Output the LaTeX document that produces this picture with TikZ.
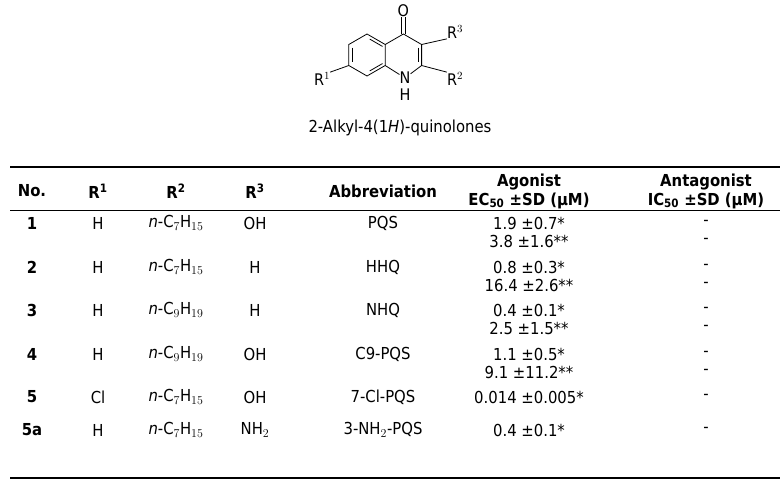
\documentclass[tikz,border=0pt]{standalone}
\usepackage{fontspec}
\setmainfont{DejaVu Sans Condensed}
\usetikzlibrary{positioning, calc}
\tikzstyle{cell} = [inner sep=0pt, font=\fontsize{16.5}{19}\selectfont]
\tikzstyle{head} = [cell, font=\fontsize{16.5}{19}\selectfont\bfseries, align=center]
\tikzstyle{atom} = [inner sep=0pt, font=\fontsize{16}{18}\selectfont]
\tikzstyle{bond} = [line width=0.8pt]
\tikzstyle{rule} = [line width=1.6pt]
\begin{document}
\begin{tikzpicture}[x=1pt,y=-1pt]
    \useasboundingbox (0,0) rectangle (784,482);
    % quinolone core
    \coordinate (c8a) at (385.2,65.5);
    \coordinate (c4a) at (385.2,44.5);
    \coordinate (c5) at (367,34);
    \coordinate (c6) at (348.8,44.5);
    \coordinate (c7) at (348.8,65.5);
    \coordinate (c8) at (367,76);
    \coordinate (c4) at (403.4,34);
    \coordinate (c3) at (421.6,44.5);
    \coordinate (c2) at (421.6,65.5);
    \node[atom] (n1) at (405,78) {N};
    \node[atom] (h1) at (405,95) {H};
    \node[atom] (o) at (403.4,11) {O};
    \node[atom] (r1) at (322,79) {R$^1$};
    \node[atom] (r2) at (455,79) {R$^2$};
    \node[atom] (r3) at (455,32) {R$^3$};
    \draw[bond] (c4a) -- (c5) -- (c6) -- (c7) -- (c8) -- (c8a) -- cycle;
    \draw[bond] (c4a) -- (c4) -- (c3) -- (c2) -- (n1) -- (c8a);
    \draw[bond] ($(c5)!0.15!(c4a)+(0,3.5)$) -- ($(c4a)!0.15!(c5)+(0,3.5)$);
    \draw[bond] ($(c6)!0.15!(c7)+(3.5,0)$) -- ($(c7)!0.15!(c6)+(3.5,0)$);
    \draw[bond] ($(c8)!0.15!(c8a)+(0,-3.5)$) -- ($(c8a)!0.15!(c8)+(0,-3.5)$);
    \draw[bond] ($(c3)!0.15!(c2)+(-3.5,0)$) -- ($(c2)!0.15!(c3)+(-3.5,0)$);
    \draw[bond] ([xshift=-1.8pt]c4) -- ([xshift=-1.8pt]o.south);
    \draw[bond] ([xshift=1.8pt]c4) -- ([xshift=1.8pt]o.south);
    \draw[bond] (c3) -- (r3.south west);
    \draw[bond] (c2) -- (r2.north west);
    \draw[bond] (c7) -- (r1.north east);
    \node[cell] (title) at (400,128) {2-Alkyl-4(1\textit{H})-quinolones};

    % table rules
    \draw[rule] (10,167) -- (780,167);
    \draw[bond] (10,210) -- (780,210);
    \draw[rule] (10,478) -- (780,478);

    % header
    \node[head] (hno) at (32,191) {No.};
    \node[head] (hr1) at (98,191) {R$^{\mathbf 1}$};
    \node[head] (hr2) at (176,191) {R$^{\mathbf 2}$};
    \node[head] (hr3) at (255,191) {R$^{\mathbf 3}$};
    \node[head] (hab) at (383,191) {Abbreviation};
    \node[head] (hag) at (529,191) {Agonist\\EC$_{\mathbf{50}}$ ±SD (µM)};
    \node[head] (han) at (706,191) {Antagonist\\IC$_{\mathbf{50}}$ ±SD (µM)};

    % rows
    \foreach \y/\no/\ra/\rb/\rc/\ab/\ec/\ecb in {
        223/1/H/{\textit{n}-C$_7$H$_{15}$}/OH/PQS/{1.9 ±0.7*}/{3.8 ±1.6**},
        267/2/H/{\textit{n}-C$_7$H$_{15}$}/H/HHQ/{0.8 ±0.3*}/{16.4 ±2.6**},
        310/3/H/{\textit{n}-C$_9$H$_{19}$}/H/NHQ/{0.4 ±0.1*}/{2.5 ±1.5**},
        354/4/H/{\textit{n}-C$_9$H$_{19}$}/OH/C9-PQS/{1.1 ±0.5*}/{9.1 ±11.2**}} {
        \node[cell, font=\fontsize{16.5}{19}\selectfont\bfseries] at (32,\y) {\no};
        \node[cell] at (98,\y) {\ra};
        \node[cell] at (176,\y) {\rb};
        \node[cell] at (255,\y) {\rc};
        \node[cell] at (383,\y) {\ab};
        \node[cell] at (529,\y) {\ec};
        \node[cell] at (529,\y+18) {\ecb};
        \node[cell] at (706,\y) {-};
        \node[cell] at (706,\y+18) {-};
    }
    \node[cell, font=\fontsize{16.5}{19}\selectfont\bfseries] at (32,397) {5};
    \node[cell] at (98,397) {Cl};
    \node[cell] at (176,397) {\textit{n}-C$_7$H$_{15}$};
    \node[cell] at (255,397) {OH};
    \node[cell] at (383,397) {7-Cl-PQS};
    \node[cell] at (529,397) {0.014 ±0.005*};
    \node[cell] at (706,397) {-};
    \node[cell, font=\fontsize{16.5}{19}\selectfont\bfseries] at (32,430) {5a};
    \node[cell] at (98,430) {H};
    \node[cell] at (176,430) {\textit{n}-C$_7$H$_{15}$};
    \node[cell] at (255,430) {NH$_2$};
    \node[cell] at (383,430) {3-NH$_2$-PQS};
    \node[cell] at (529,430) {0.4 ±0.1*};
    \node[cell] at (706,430) {-};
\end{tikzpicture}
\end{document}
